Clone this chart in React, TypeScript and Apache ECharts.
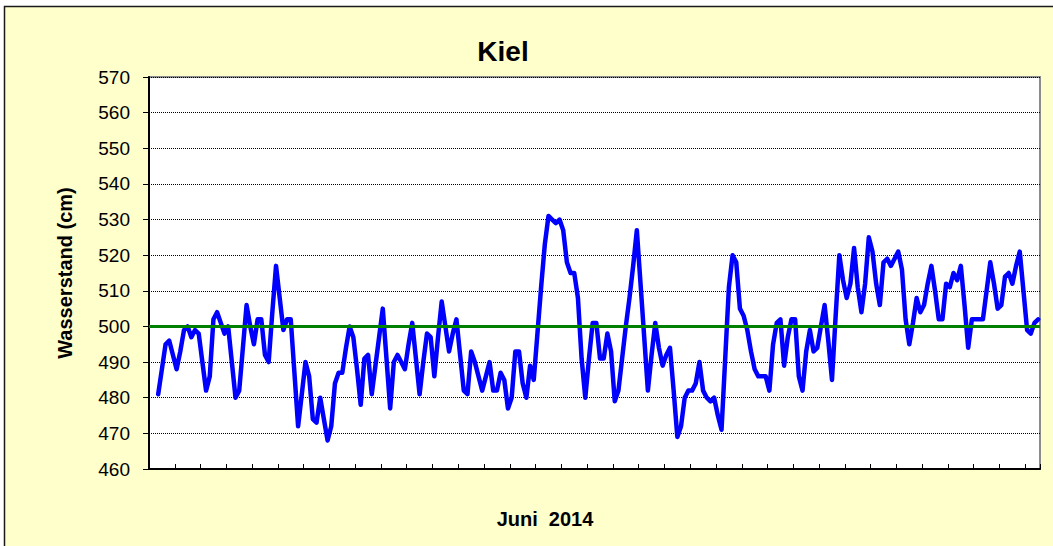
import React, { useEffect, useRef } from "react";
import * as echarts from "echarts";

// Wasserstand Kiel, Juni 2014 (cm), one value per time step
const week1: (number | null)[] = [
  null, null, 481, 488, 495, 496, 492, 488, 493, 499, 500, 497, 499, 498, 490, 482, 486, 502, 504, 501,
  498, 500, 490, 480, 482, 494, 506, 500, 495, 502, 502, 492, 490, 504, 517, 508, 499, 502, 502, 487,
  472, 481, 490, 486, 474, 473, 480, 474,
];
const week2: number[] = [
  468, 472, 484, 487, 487, 494, 500, 497, 488, 478, 491, 492, 481, 489, 497, 505, 491, 477, 490, 492,
  490, 488, 495, 501, 491, 481, 490, 498, 497, 486, 497, 507, 500, 493, 498, 502, 492, 482, 481, 493,
  490, 486, 482, 486, 490, 482, 482, 487,
];
const week3: number[] = [
  485, 477, 480, 493, 493, 484, 480, 489, 485, 498, 511, 523, 531, 530, 529, 530, 527, 518, 515, 515,
  508, 491, 480, 491, 501, 501, 491, 491, 498, 493, 479, 482, 491, 500, 508, 517, 527, 512, 497, 482,
  492, 501, 494, 489, 492, 494, 482, 469,
];
const week4: number[] = [
  472, 480, 482, 482, 484, 490, 482, 480, 479, 480, 475, 471, 491, 511, 520, 518, 505, 503, 499, 493,
  488, 486, 486, 486, 482, 495, 501, 502, 489, 497, 502, 502, 486, 482, 493, 499, 493, 494, 500, 506,
  496, 485, 503, 520, 513, 508, 512, 522,
];
const week5: number[] = [
  511, 504, 512, 525, 521, 512, 506, 518, 519, 517, 519, 521, 516, 502, 495, 501, 508, 504, 506, 512,
  517, 510, 502, 502, 512, 511, 515, 513, 517, 506, 494, 502, 502, 502, 502, 510, 518, 512, 505, 506,
  514, 515, 512, 517, 521, 510, 499, 498, 501, 502,
];
const waterLevel: (number | null)[] = [...week1, ...week2, ...week3, ...week4, ...week5];
const categories: string[] = waterLevel.map((_, i) => String(i));

const meanLevel = 500; // Mittelwasser
const yMin = 460;
const yMax = 570;
const yStep = 10;

const chartTitle = "Kiel";
const yTitle = "Wasserstand (cm)";
const xTitle = "Juni  2014";

const FONT = "Liberation Sans, Arial, sans-serif";

export default function App() {
  const ref = useRef<HTMLDivElement>(null);

  useEffect(() => {
    if (!ref.current) return;
    const chart = echarts.init(ref.current, undefined, { renderer: "svg" });
    chart.setOption({
      animation: false,
      backgroundColor: "#ffffff",
      textStyle: { fontFamily: FONT },
      title: {
        text: chartTitle,
        left: 498,
        top: 32,
        textAlign: "center",
        textStyle: { fontFamily: FONT, fontWeight: "bold", fontSize: 28, color: "#000" },
      },
      graphic: [
        {
          type: "rect",
          z: -10,
          silent: true,
          shape: { x: 4.5, y: 6.5, width: 1200, height: 700 },
          style: { fill: "#FFFFCC", stroke: "#1a1a1a", lineWidth: 1.5 },
        },
        {
          type: "text",
          silent: true,
          x: 545,
          y: 519,
          style: {
            text: xTitle,
            fontFamily: FONT,
            fontWeight: "bold",
            fontSize: 20,
            fill: "#000",
            align: "center",
            verticalAlign: "middle",
          },
        },
      ],
      grid: {
        left: 149,
        top: 77,
        right: 13,
        bottom: 77,
        show: true,
        backgroundColor: "#ffffff",
        borderColor: "#8c8c8c",
        borderWidth: 2,
      },
      xAxis: {
        type: "category",
        data: categories,
        boundaryGap: true,
        axisLine: { lineStyle: { color: "#000", width: 2 } },
        axisTick: { show: true, inside: true, length: 5, interval: 6, lineStyle: { color: "#000", width: 1 } },
        axisLabel: { show: false },
        splitLine: { show: false },
      },
      yAxis: {
        type: "value",
        min: yMin,
        max: yMax,
        interval: yStep,
        name: yTitle,
        nameLocation: "middle",
        nameGap: 74,
        nameTextStyle: { fontFamily: FONT, fontWeight: "bold", fontSize: 20, color: "#000" },
        axisLine: { show: true, lineStyle: { color: "#000", width: 2 } },
        axisTick: { show: true, length: 6, lineStyle: { color: "#000", width: 1 } },
        axisLabel: { fontFamily: FONT, fontSize: 19, color: "#000", margin: 19 },
        splitLine: { show: true, lineStyle: { color: "#000", width: 1, type: "dotted" } },
      },
      series: [
        {
          name: "Wasserstand",
          type: "line",
          data: waterLevel,
          showSymbol: false,
          connectNulls: false,
          lineStyle: { color: "#0000FF", width: 4.5, join: "round", cap: "round" },
          z: 3,
          markLine: {
            silent: true,
            symbol: "none",
            label: { show: false },
            lineStyle: { color: "#008000", width: 3, type: "solid" },
            data: [{ yAxis: meanLevel }],
            z: 5,
          },
        },
      ],
    });
    return () => chart.dispose();
  }, []);

  return (
    <div
      ref={ref}
      style={{ position: "fixed", left: 0, top: 0, width: 1053, height: 546 }}
    />
  );
}
